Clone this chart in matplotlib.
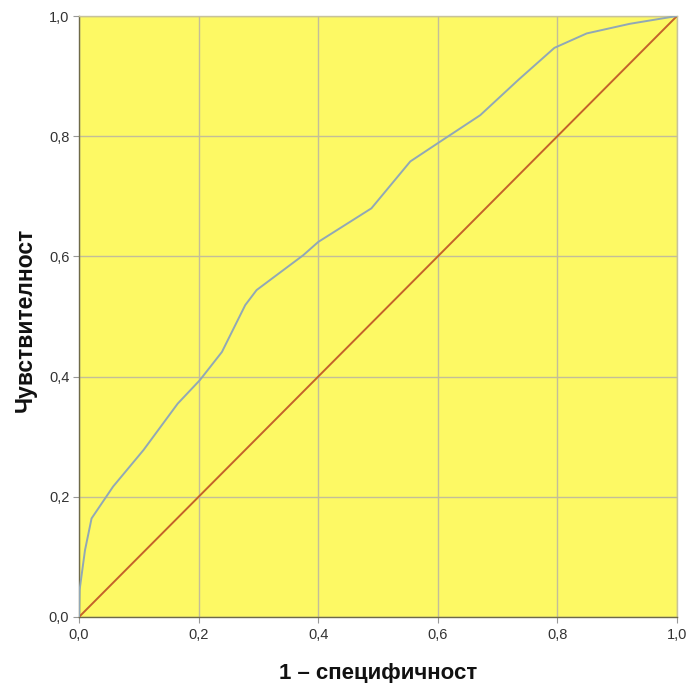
import matplotlib
matplotlib.use("Agg")
import matplotlib.pyplot as plt

plt.rcParams['font.family'] = ['Liberation Sans', 'DejaVu Sans']

fpr = [0, 0.001, 0.01, 0.021, 0.057, 0.108, 0.165, 0.202, 0.239, 0.278, 0.297,
       0.375, 0.400, 0.489, 0.554, 0.604, 0.671, 0.735, 0.795, 0.849, 0.921, 1.0]
tpr = [0, 0.045, 0.111, 0.164, 0.217, 0.278, 0.355, 0.394, 0.441, 0.519, 0.544,
       0.602, 0.624, 0.680, 0.758, 0.791, 0.835, 0.894, 0.947, 0.971, 0.987, 1.0]
ref_x = [0, 1]
ref_y = [0, 1]
ticks = [0, 0.2, 0.4, 0.6, 0.8, 1.0]
tick_labels = ['0,0', '0,2', '0,4', '0,6', '0,8', '1,0']

W, H = 689, 683
fig = plt.figure(figsize=(W / 100, H / 100), dpi=100)
ax = fig.add_axes([79 / W, 66 / H, 598 / W, 601 / H])
ax.set_facecolor('#FDF964')
ax.set_xlim(0, 1)
ax.set_ylim(0, 1)
ax.set_xticks(ticks)
ax.set_yticks(ticks)
ax.set_xticklabels(tick_labels)
ax.set_yticklabels(tick_labels)
ax.grid(True, color='#C4BE98', linewidth=1.0)
ax.set_axisbelow(True)
for s in ['top', 'right']:
    ax.spines[s].set_color('#C8C39A')
    ax.spines[s].set_linewidth(1.0)
for s in ['left', 'bottom']:
    ax.spines[s].set_color('#6E6A48')
    ax.spines[s].set_linewidth(1.0)
ax.tick_params(axis='both', length=4, width=0.8, color='#999999',
               labelsize=10.5, labelcolor='#333333')
ax.tick_params(axis='x', pad=4)
ax.tick_params(axis='y', pad=3)

ax.plot(ref_x, ref_y, color='#C4622A', linewidth=1.4, zorder=3)
ax.plot(fpr, tpr, color='#91A8B6', linewidth=1.4, zorder=4)

fig.text(378 / W, (H - 679) / H, '1 – специфичност', fontsize=16,
         fontweight='bold', ha='center', va='baseline', color='#111111')
fig.text(32 / W, (H - 320) / H, 'Чувствителност', fontsize=16.5,
         fontweight='bold', ha='center', va='baseline', rotation=90,
         rotation_mode='anchor', color='#111111')

fig.savefig('out.png', dpi=100)
